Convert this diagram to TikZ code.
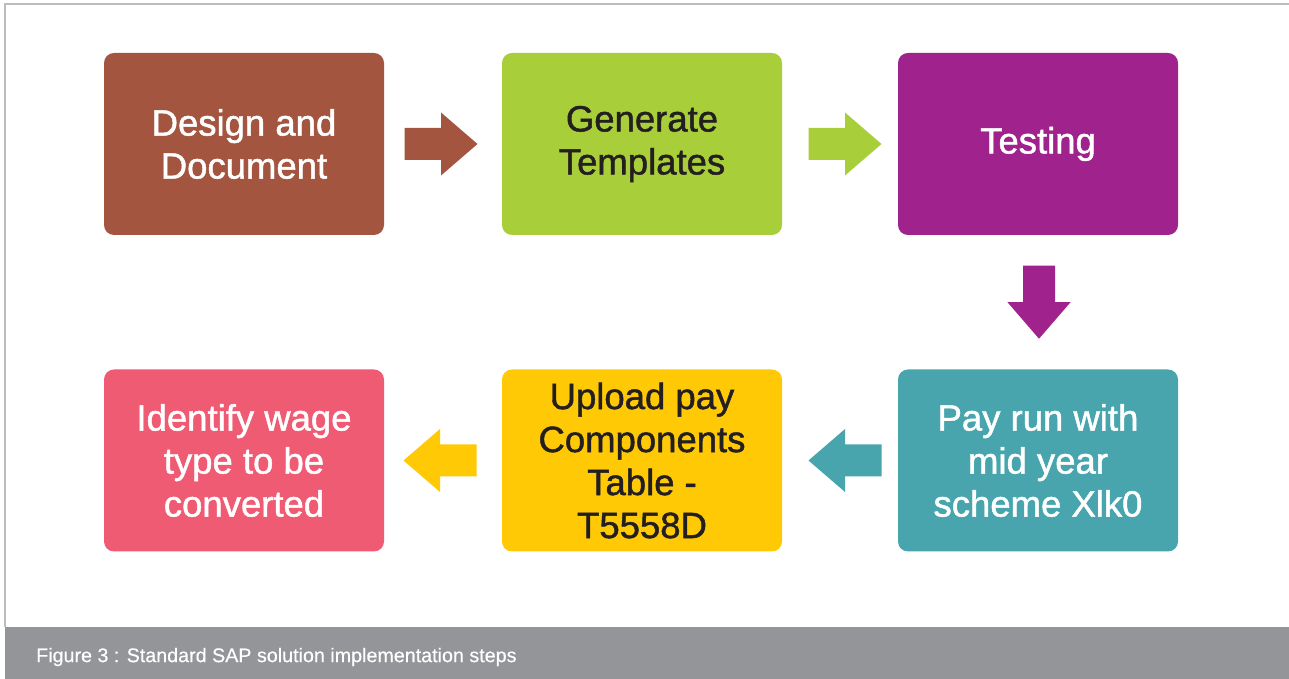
\documentclass[tikz,border=0pt]{standalone}
\usepackage{fontspec}
\setmainfont{Liberation Sans}
\usetikzlibrary{calc}

\definecolor{stepbrown}{HTML}{A3553F}
\definecolor{stepgreen}{HTML}{A8CE3A}
\definecolor{steppurple}{HTML}{A0228C}
\definecolor{stepteal}{HTML}{48A5AE}
\definecolor{stepyellow}{HTML}{FFC906}
\definecolor{steppink}{HTML}{F05B74}
\definecolor{darktext}{HTML}{231F20}
\definecolor{captionbar}{HTML}{939598}
\definecolor{framegray}{HTML}{BDBDBD}

\tikzset{
  stepbox/.style={rectangle, rounded corners=10pt, minimum width=280pt,
    minimum height=182pt, inner sep=0pt, align=center,
    font=\fontsize{36.5}{43}\selectfont\addfontfeature{FakeBold=1.3}},
  pics/blockarrow/.style={code={
    \fill (-36.5,-16) -- (0,-16) -- (0,-31.5) -- (36.5,0) -- (0,31.5)
      -- (0,16) -- (-36.5,16) -- cycle;}}
}

\begin{document}
\begin{tikzpicture}[x=1pt,y=1pt]
  \useasboundingbox (0,0) rectangle (1289,679);

  % frame and caption bar
  \draw[framegray, line width=1.5pt] (5,52) -- (5,675) -- (1289,675);
  \fill[captionbar] (5,0) rectangle (1289,52);
  \node[anchor=west, text=white, inner sep=0pt,
        font=\fontsize{19.7}{23}\selectfont\addfontfeature{FakeBold=0.4}] (cap) at (36,22)
    {Figure 3 : Standard SAP solution implementation steps};

  % process steps
  \node[stepbox, fill=stepbrown, text=white] (design) at (244,535)
    {Design and\\Document};
  \node[stepbox, fill=stepgreen, text=darktext] (generate) at (642,535)
    {Generate\\Templates};
  \node[stepbox, fill=steppurple, text=white] (testing) at (1038,535)
    {Testing};
  \node[stepbox, fill=stepteal, text=white] (payrun) at (1038,218.5)
    {Pay run with\\mid year\\scheme Xlk0};
  \node[stepbox, fill=stepyellow, text=darktext] (upload) at (642,218.5)
    {Upload pay\\Components\\Table -\\T5558D};
  \node[stepbox, fill=steppink, text=white] (identify) at (244,218.5)
    {Identify wage\\type to be\\converted};

  % block arrows between the steps
  \pic[color=stepbrown] at ($(design.east)!0.5!(generate.west)+(-2,0)$) {blockarrow};
  \pic[color=stepgreen] at ($(generate.east)!0.5!(testing.west)+(5,0)$) {blockarrow};
  \pic[color=steppurple, rotate=-90] at ($(testing.south)!0.5!(payrun.north)+(1,0)$) {blockarrow};
  \pic[color=stepteal, rotate=180] at ($(payrun.west)!0.5!(upload.east)+(5,0)$) {blockarrow};
  \pic[color=stepyellow, rotate=180] at ($(upload.west)!0.5!(identify.east)+(-3,0)$) {blockarrow};
\end{tikzpicture}
\end{document}
